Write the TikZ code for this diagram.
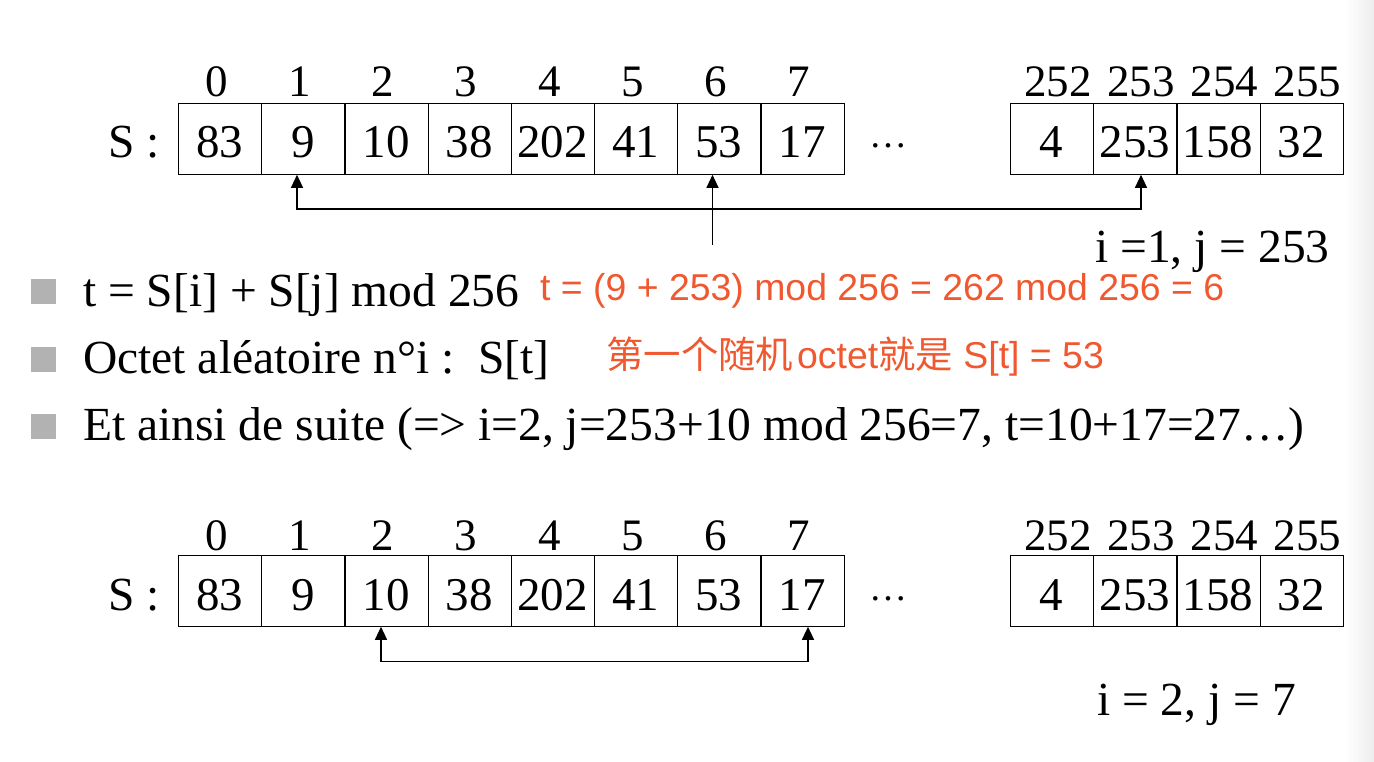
\documentclass[tikz,border=0pt]{standalone}
\usepackage{fontspec}
\setmainfont{Liberation Serif}
\newfontfamily\redsans{Liberation Sans}
\newfontfamily\cjk{Noto Sans CJK SC}
\usetikzlibrary{arrows.meta}
\definecolor{redtxt}{RGB}{240,88,48}
\definecolor{bulletgray}{RGB}{178,178,178}
\begin{document}
\begin{tikzpicture}[x=1pt,y=-1pt,
  cell/.style={draw, line width=1.2pt, minimum width=83.2pt, minimum height=70.6pt, inner sep=0pt, anchor=north west},
  val/.style={anchor=base, font=\fontsize{47}{50}\selectfont, inner sep=0pt},
  idx/.style={anchor=base, font=\fontsize{45}{48}\selectfont, inner sep=0pt},
  txt/.style={anchor=base west, font=\fontsize{47.5}{50}\selectfont, inner sep=0pt},
  redt/.style={anchor=base west, font=\redsans\fontsize{37.4}{40}\selectfont, text=redtxt, inner sep=0pt},
  bul/.style={fill=bulletgray, minimum size=25pt, inner sep=0pt, anchor=south west},
  conn/.style={line width=1.2pt, line join=miter, {Triangle[length=13pt,width=12pt]}-{Triangle[length=13pt,width=12pt]}},
  arr/.style={line width=1.2pt, -{Triangle[length=13pt,width=12pt]}}
]
\useasboundingbox (0,0) rectangle (1374,762);
\shade[left color=white, right color=black!7] (1345,0) rectangle (1374,762);

% ---------- top array ----------
\node[txt] (S1) at (108,158) {S :};
\foreach \v [count=\k from 0] in {83,9,10,38,202,41,53,17} {
  \node[cell] (c\k) at ({178+83.2*\k},103) {};
  \node[val] (cv\k) at ({219.6+83.2*\k},158) {\v};
  \node[idx] (ci\k) at ({216.5+83.2*\k},97) {\k};
}
\node[val, font=\fontsize{38}{40}\selectfont] (dots1) at (888,148) {…};
\foreach \v/\n [count=\k from 0] in {4/252,253/253,158/254,32/255} {
  \node[cell] (r\k) at ({1010+83.2*\k},103) {};
  \node[val] (rv\k) at ({1051.6+83.2*\k},158) {\v};
  \node[idx] (ri\k) at ({1058+83.2*\k},97) {\n};
}
\coordinate (a1) at (297,209);
\coordinate (a2) at (1141,209);
\coordinate (m) at (712.5,245);
\draw[conn] (a1 |- c1.south) -- (a1) -- (a2) -- (a2 |- r1.south);
\draw[arr] (m) -- (m |- c6.south);
\node[txt] (ij1) at (1095,263) {i =1, j = 253};

% ---------- bullets ----------
\node[bul] (b1) at (31,304) {};
\node[bul] (b2) at (31,372) {};
\node[bul] (b3) at (31,439) {};
\node[txt] (t1) at (83,306) {t = S[i] + S[j] mod 256};
\node[txt] (t2) at (83,373) {Octet aléatoire n°i :\ \ S[t]};
\node[txt] (t3) at (83,440) {Et ainsi de suite (=> i=2, j=253+10 mod 256=7, t=10+17=27…)};
\node[redt] (r1t) at (540,301) {t = (9 + 253) mod 256 = 262 mod 256 = 6};
\node[redt] (r2t) at (606,368) {{\cjk 第一个随机}\hspace{4pt}octet{\cjk 就是} S[t] = 53};

% ---------- bottom array ----------
\node[txt] (S2) at (108,610) {S :};
\foreach \v [count=\k from 0] in {83,9,10,38,202,41,53,17} {
  \node[cell] (d\k) at ({178+83.2*\k},555) {};
  \node[val] (dv\k) at ({219.6+83.2*\k},610) {\v};
  \node[idx] (di\k) at ({216.5+83.2*\k},550) {\k};
}
\node[val, font=\fontsize{38}{40}\selectfont] (dots2) at (888,600) {…};
\foreach \v/\n [count=\k from 0] in {4/252,253/253,158/254,32/255} {
  \node[cell] (e\k) at ({1010+83.2*\k},555) {};
  \node[val] (ev\k) at ({1051.6+83.2*\k},610) {\v};
  \node[idx] (ei\k) at ({1058+83.2*\k},550) {\n};
}
\coordinate (g1) at (381,661.5);
\coordinate (g2) at (808,661.5);
\draw[conn] (g1 |- d2.south) -- (g1) -- (g2) -- (g2 |- d7.south);
\node[txt] (ij2) at (1097,715) {i = 2, j = 7};
\end{tikzpicture}
\end{document}
